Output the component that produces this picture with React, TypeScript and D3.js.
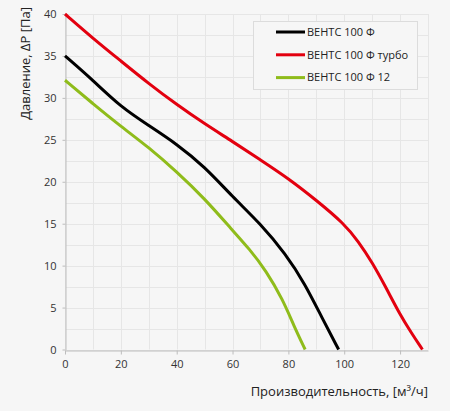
import { useEffect, useRef } from 'react';
import * as d3 from 'd3';

// Flow rate, m3/h (x) vs pressure, Pa (y)
const seriesNames = ['ВЕНТС 100 Ф', 'ВЕНТС 100 Ф турбо', 'ВЕНТС 100 Ф 12'];
const seriesColors = ['#000000', '#e3000f', '#8fbc1b'];

const blackCurve: [number, number][] = [
  [0, 35], [10, 32.1], [20, 28.9], [30, 26.7], [40, 24.5], [50, 21.8],
  [60, 18.2], [70, 15.0], [79, 11.4], [86, 7.8], [92, 3.8], [98, 0],
];
const redCurve: [number, number][] = [
  [0, 40], [10, 37.1], [20, 34.4], [30, 31.7], [40, 29.2], [50, 26.9], [60, 24.8],
  [70, 22.6], [80, 20.4], [90, 17.8], [100, 15.0], [105, 12.9], [110, 10.4],
  [115, 7.35], [120, 4.15], [124, 2.0], [128, 0],
];
const greenCurve: [number, number][] = [
  [0, 32.1], [10, 29.3], [20, 26.6], [30, 24.1], [40, 21.2], [50, 18.0],
  [60, 14.2], [66, 12.0], [72, 9.4], [78, 5.95], [82, 2.8], [86, 0],
];
const curves = [blackCurve, redCurve, greenCurve];

const xTicks = [0, 20, 40, 60, 80, 100, 120];
const yTicks = [0, 5, 10, 15, 20, 25, 30, 35, 40];
const xGrid = d3.range(0, 131, 10);
const yGrid = d3.range(0, 40.1, 2.5);

const W = 450;
const H = 411;
const margin = { left: 65, right: 22, top: 14, bottom: 61.5 };

export default function App() {
  const svgRef = useRef<SVGSVGElement>(null);

  useEffect(() => {
    if (!svgRef.current) return;
    const svg = d3.select(svgRef.current);
    svg.selectAll('*').remove();

    const x = d3.scaleLinear().domain([0, 130]).range([margin.left, W - margin.right]);
    const y = d3.scaleLinear().domain([0, 40]).range([H - margin.bottom, margin.top]);
    const font = '"Open Sans", "DejaVu Sans", sans-serif';

    svg.append('rect').attr('width', W).attr('height', H).attr('fill', '#f6f6f6');

    // grid
    const grid = svg.append('g').attr('stroke', '#e6e6e6').attr('stroke-width', 1);
    grid.selectAll('line.v')
      .data(xGrid)
      .join('line')
      .attr('class', 'v')
      .attr('x1', d => Math.round(x(d)) + 0.5)
      .attr('x2', d => Math.round(x(d)) + 0.5)
      .attr('y1', y(0))
      .attr('y2', y(40));
    grid.selectAll('line.h')
      .data(yGrid)
      .join('line')
      .attr('class', 'h')
      .attr('x1', x(0))
      .attr('x2', x(130))
      .attr('y1', d => Math.round(y(d)) + 0.5)
      .attr('y2', d => Math.round(y(d)) + 0.5);

    // axes
    const axisColor = '#bdbdbd';
    const xAxis = svg.append('g').attr('transform', `translate(0,${Math.round(y(0)) + 0.5})`)
      .call(d3.axisBottom(x).tickValues(xTicks).tickSize(4).tickPadding(6).tickSizeOuter(0));
    const yAxis = svg.append('g').attr('transform', `translate(${Math.round(x(0)) + 0.5},0)`)
      .call(d3.axisLeft(y).tickValues(yTicks).tickSize(3).tickPadding(6).tickSizeOuter(0));
    [xAxis, yAxis].forEach(g => {
      g.select('.domain').attr('stroke', axisColor);
      g.selectAll('.tick line').attr('stroke', axisColor);
      g.selectAll('.tick text')
        .attr('fill', '#333')
        .style('font-family', font)
        .style('font-size', '11px');
    });

    // curves (basis spline smooths out reading noise)
    const line = d3.line<[number, number]>()
      .x(d => x(d[0]))
      .y(d => y(d[1]))
      .curve(d3.curveBasis);
    svg.append('g')
      .selectAll('path')
      .data(curves)
      .join('path')
      .attr('d', d => line(d))
      .attr('fill', 'none')
      .attr('stroke', (_d, i) => seriesColors[i])
      .attr('stroke-width', 3)
      .attr('stroke-linejoin', 'round');

    // legend
    const legend = svg.append('g');
    legend.append('rect')
      .attr('x', 253.5).attr('y', 21.5).attr('width', 164).attr('height', 68)
      .attr('fill', '#f6f6f6').attr('stroke', '#dcdcdc');
    const rows = legend.selectAll('g.row')
      .data(seriesNames)
      .join('g')
      .attr('transform', (_d, i) => `translate(0,${32 + i * 22.8})`);
    rows.append('line')
      .attr('x1', 276).attr('x2', 305)
      .attr('stroke', (_d, i) => seriesColors[i])
      .attr('stroke-width', 3);
    rows.append('text')
      .attr('x', 307)
      .attr('dy', '0.35em')
      .attr('fill', '#222')
      .style('font-family', font)
      .style('font-size', '11px')
      .text(d => d);

    // axis titles
    svg.append('text')
      .attr('x', x(130))
      .attr('y', 396)
      .attr('text-anchor', 'end')
      .attr('fill', '#222')
      .style('font-family', font)
      .style('font-size', '13px')
      .text('Производительность, [м³/ч]');
    svg.append('text')
      .attr('transform', 'translate(30,7) rotate(-90)')
      .attr('text-anchor', 'end')
      .attr('fill', '#222')
      .style('font-family', font)
      .style('font-size', '13px')
      .text('Давление, ∆P [Па]');
  }, []);

  return (
    <svg
      ref={svgRef}
      width={W}
      height={H}
      style={{ position: 'absolute', left: 0, top: 0, display: 'block' }}
    />
  );
}
